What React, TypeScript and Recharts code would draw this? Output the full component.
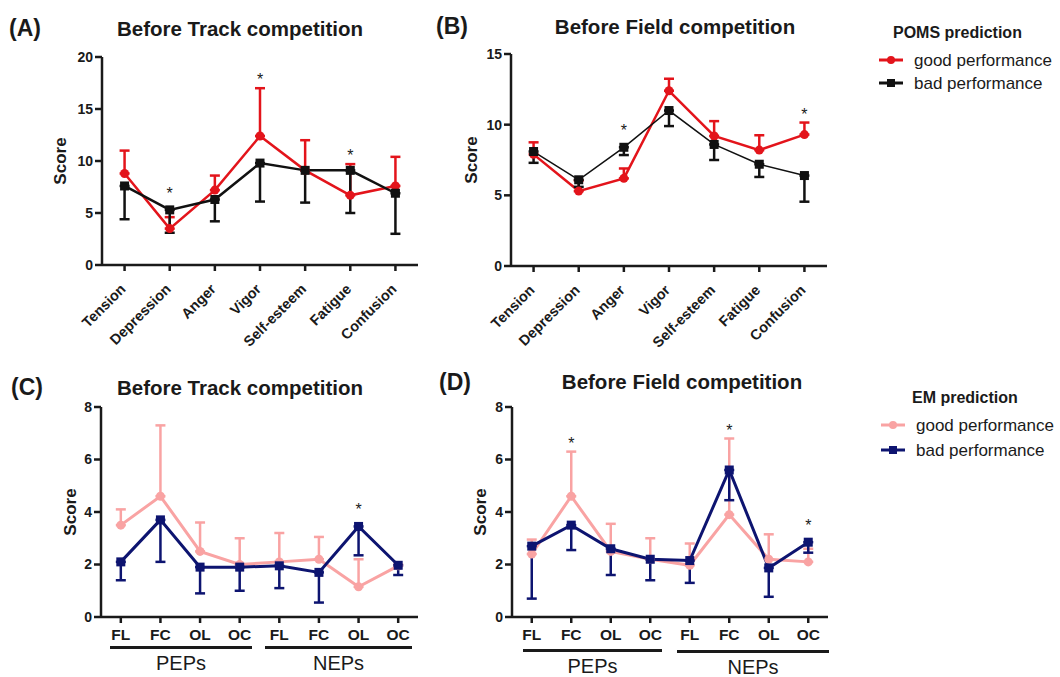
import React from "react"
import { ComposedChart, Line, XAxis, YAxis, ErrorBar, Label } from "recharts"

// POMS subscales (panels A, B)
const pomsCategories = ["Tension", "Depression", "Anger", "Vigor", "Self-esteem", "Fatigue", "Confusion"]

const trackPomsGood = [8.8, 3.5, 7.2, 12.4, 9.1, 6.7, 7.6]
const trackPomsGoodTop = [11.0, 4.6, 8.6, 17.0, 12.0, 9.7, 10.4]
const trackPomsBad = [7.6, 5.3, 6.3, 9.8, 9.1, 9.1, 6.9]
const trackPomsBadBottom = [4.4, 3.1, 4.2, 6.1, 6.0, 5.0, 3.0]
const trackPomsSig = [false, true, false, true, false, true, false]

const fieldPomsGood = [7.9, 5.3, 6.2, 12.4, 9.2, 8.2, 9.3]
const fieldPomsGoodTop = [8.75, 6.05, 6.9, 13.25, 10.25, 9.25, 10.15]
const fieldPomsBad = [8.1, 6.1, 8.4, 11.0, 8.6, 7.2, 6.4]
const fieldPomsBadBottom = [7.3, 5.6, 7.85, 9.9, 7.5, 6.3, 4.55]
const fieldPomsSig = [false, false, true, false, false, false, true]

// EM categories (panels C, D): PEPs then NEPs
const emCategories = ["FL", "FC", "OL", "OC", "FL", "FC", "OL", "OC"]
const emGroups = ["PEPs", "NEPs"]

const trackEmGood = [3.5, 4.6, 2.5, 2.0, 2.1, 2.2, 1.15, 1.95]
const trackEmGoodTop = [4.1, 7.3, 3.6, 3.0, 3.2, 3.05, 2.2, 2.0]
const trackEmBad = [2.1, 3.7, 1.9, 1.9, 1.95, 1.7, 3.45, 1.97]
const trackEmBadBottom = [1.4, 2.1, 0.9, 1.0, 1.1, 0.55, 2.35, 1.6]
const trackEmSig = [false, false, false, false, false, false, true, false]

const fieldEmGood = [2.4, 4.6, 2.5, 2.2, 1.97, 3.9, 2.2, 2.1]
const fieldEmGoodTop = [2.95, 6.3, 3.55, 3.0, 2.8, 6.8, 3.15, 2.6]
const fieldEmBad = [2.7, 3.5, 2.6, 2.2, 2.15, 5.6, 1.87, 2.85]
const fieldEmBadBottom = [0.7, 2.55, 1.6, 1.4, 1.3, 4.45, 0.77, 2.45]
const fieldEmSig = [false, true, false, false, false, true, false, true]

const RED = "#e3141b"
const BLACK = "#111111"
const PINK = "#f9a3a3"
const NAVY = "#0d1470"
const INK = "#1a1a1a"
const FONT = "'Liberation Sans', Arial, sans-serif"

function buildRows(
  cats: string[],
  good: number[],
  goodTop: number[],
  bad: number[],
  badBottom: number[],
  sig: boolean[]
) {
  return cats.map((name, i) => {
    const top = Math.max(good[i], goodTop[i], bad[i])
    return {
      name,
      good: good[i],
      goodErr: [0, goodTop[i] - good[i]],
      bad: bad[i],
      badErr: [bad[i] - badBottom[i], 0],
      star: sig[i] ? top : null,
      starOnMarker: bad[i] >= goodTop[i],
    }
  })
}

const rowsA = buildRows(pomsCategories, trackPomsGood, trackPomsGoodTop, trackPomsBad, trackPomsBadBottom, trackPomsSig)
const rowsB = buildRows(pomsCategories, fieldPomsGood, fieldPomsGoodTop, fieldPomsBad, fieldPomsBadBottom, fieldPomsSig)
const rowsC = buildRows(emCategories, trackEmGood, trackEmGoodTop, trackEmBad, trackEmBadBottom, trackEmSig)
const rowsD = buildRows(emCategories, fieldEmGood, fieldEmGoodTop, fieldEmBad, fieldEmBadBottom, fieldEmSig)

const squareDot = (color: string, size: number) => (props: any) => {
  const { cx, cy, index } = props
  if (cx == null || cy == null) return <g key={`sq-${index}`} />
  return <rect key={`sq-${index}`} x={cx - size / 2} y={cy - size / 2} width={size} height={size} fill={color} />
}

const starDot = (props: any) => {
  const { cx, cy, index, payload } = props
  if (cx == null || cy == null || payload.star == null) return <g key={`st-${index}`} />
  const off = payload.starOnMarker ? 20 : 12
  return (
    <text key={`st-${index}`} x={cx} y={cy - off + 9} textAnchor="middle" fontSize={16} fill={INK} fontFamily={FONT}>
      *
    </text>
  )
}

const RotatedTick = (props: any) => {
  const { x, y, payload } = props
  const tx = x + 2
  const ty = y + 17
  return (
    <text
      x={tx}
      y={ty}
      transform={`rotate(-45 ${tx} ${ty})`}
      textAnchor="end"
      fontSize={14.5}
      fontWeight="bold"
      fill={INK}
      fontFamily={FONT}
    >
      {payload.value}
    </text>
  )
}

type PanelProps = {
  rows: any[]
  left: number
  top: number
  width: number
  height: number
  margin: { top: number; right: number; bottom: number; left: number }
  yAxisWidth: number
  xAxisHeight: number
  yMax: number
  yTicks: number[]
  scoreX: number
  good: string
  bad: string
  goodWidth: number
  badWidth: number
  rotated: boolean
}

function Panel(p: PanelProps) {
  const plotMid = p.margin.top + (p.height - p.margin.top - p.margin.bottom - p.xAxisHeight) / 2
  const plotW = p.width - p.margin.left - p.margin.right - p.yAxisWidth
  const pad = plotW / (2 * p.rows.length)
  return (
    <div style={{ position: "absolute", left: p.left, top: p.top }}>
      <ComposedChart width={p.width} height={p.height} data={p.rows} margin={p.margin}>
        <XAxis
          dataKey="name"
          height={p.xAxisHeight}
          interval={0}
          padding={{ left: pad, right: pad }}
          tickSize={6}
          tickMargin={p.rotated ? 2 : 6}
          axisLine={{ stroke: INK, strokeWidth: 2.5 }}
          tickLine={{ stroke: INK, strokeWidth: 2.5 }}
          tick={p.rotated ? <RotatedTick /> : { fontSize: 15.5, fontWeight: "bold", fill: INK }}
        />
        <YAxis
          width={p.yAxisWidth}
          domain={[0, p.yMax]}
          ticks={p.yTicks}
          allowDataOverflow
          tickSize={7}
          tickMargin={2}
          axisLine={{ stroke: INK, strokeWidth: 2.5 }}
          tickLine={{ stroke: INK, strokeWidth: 2.5 }}
          tick={{ fontSize: 14, fontWeight: "bold", fill: INK }}
        >
          <Label
            content={() => (
              <text
                x={p.scoreX}
                y={plotMid}
                transform={`rotate(-90 ${p.scoreX} ${plotMid})`}
                textAnchor="middle"
                dominantBaseline="central"
                fontSize={17}
                fontWeight="bold"
                fill={INK}
                fontFamily={FONT}
              >
                Score
              </text>
            )}
          />
        </YAxis>
        <Line
          dataKey="good"
          stroke={p.good}
          strokeWidth={p.goodWidth}
          dot={{ r: 4.5, fill: p.good, stroke: p.good, strokeWidth: 0 }}
          activeDot={false}
          isAnimationActive={false}
        >
          <ErrorBar dataKey="goodErr" direction="y" width={5} stroke={p.good} strokeWidth={2.5} />
        </Line>
        <Line
          dataKey="bad"
          stroke={p.bad}
          strokeWidth={p.badWidth}
          dot={squareDot(p.bad, 9)}
          activeDot={false}
          isAnimationActive={false}
        >
          <ErrorBar dataKey="badErr" direction="y" width={5} stroke={p.bad} strokeWidth={2.5} />
        </Line>
        <Line dataKey="star" stroke="none" dot={starDot} activeDot={false} isAnimationActive={false} />
      </ComposedChart>
    </div>
  )
}

const abs = (left: number, top: number, extra: React.CSSProperties = {}): React.CSSProperties => ({
  position: "absolute",
  left,
  top,
  whiteSpace: "nowrap",
  lineHeight: 1,
  ...extra,
})

function Heading({ x, y, text }: { x: number; y: number; text: string }) {
  return (
    <div style={abs(x, y, { transform: "translate(-50%, -50%)", fontSize: 20.5, fontWeight: "bold", color: INK })}>
      {text}
    </div>
  )
}

function PanelTag({ x, y, text }: { x: number; y: number; text: string }) {
  return <div style={abs(x, y, { transform: "translateY(-50%)", fontSize: 23, fontWeight: "bold", color: INK })}>{text}</div>
}

function GroupBar({ x1, x2, y, label }: { x1: number; x2: number; y: number; label: string }) {
  return (
    <>
      <div style={abs(x1, y - 1.5, { width: x2 - x1, height: 3, background: INK })} />
      <div style={abs((x1 + x2) / 2, y + 16, { transform: "translate(-50%, -50%)", fontSize: 20, color: INK })}>{label}</div>
    </>
  )
}

function LegendItem({ x, y, color, square, text }: { x: number; y: number; color: string; square: boolean; text: string }) {
  return (
    <>
      <svg style={abs(x, y - 6)} width={24} height={12}>
        <line x1={0} y1={6} x2={24} y2={6} stroke={color} strokeWidth={3} />
        {square ? <rect x={8} y={2} width={8} height={8} fill={color} /> : <circle cx={12} cy={6} r={4} fill={color} />}
      </svg>
      <div style={abs(x + 35, y, { transform: "translateY(-50%)", fontSize: 17, color: INK })}>{text}</div>
    </>
  )
}

export default function App() {
  return (
    <div style={{ position: "absolute", left: 0, top: 0, width: 1060, height: 677, background: "#fff", fontFamily: FONT, overflow: "hidden" }}>
      <Panel
        rows={rowsC}
        left={0}
        top={340}
        width={430}
        height={337}
        margin={{ top: 67, right: 12, bottom: 20, left: 0 }}
        yAxisWidth={101}
        xAxisHeight={40}
        yMax={8}
        yTicks={[0, 2, 4, 6, 8]}
        scoreX={70}
        good={PINK}
        bad={NAVY}
        goodWidth={3}
        badWidth={3}
        rotated={false}
      />
      <Panel
        rows={rowsD}
        left={420}
        top={340}
        width={420}
        height={337}
        margin={{ top: 67, right: 12, bottom: 20, left: 0 }}
        yAxisWidth={92}
        xAxisHeight={40}
        yMax={8}
        yTicks={[0, 2, 4, 6, 8]}
        scoreX={60}
        good={PINK}
        bad={NAVY}
        goodWidth={3}
        badWidth={3}
        rotated={false}
      />
      <Panel
        rows={rowsA}
        left={0}
        top={0}
        width={430}
        height={362}
        margin={{ top: 57, right: 12, bottom: 37, left: 0 }}
        yAxisWidth={102}
        xAxisHeight={60}
        yMax={20}
        yTicks={[0, 5, 10, 15, 20]}
        scoreX={60}
        good={RED}
        bad={BLACK}
        goodWidth={2.5}
        badWidth={2.5}
        rotated
      />
      <Panel
        rows={rowsB}
        left={420}
        top={0}
        width={420}
        height={362}
        margin={{ top: 54, right: 13, bottom: 36, left: 0 }}
        yAxisWidth={91}
        xAxisHeight={60}
        yMax={15}
        yTicks={[0, 5, 10, 15]}
        scoreX={51}
        good={RED}
        bad={BLACK}
        goodWidth={2.5}
        badWidth={1.5}
        rotated
      />

      <PanelTag x={9} y={28} text="(A)" />
      <PanelTag x={436} y={26} text="(B)" />
      <PanelTag x={11} y={387} text="(C)" />
      <PanelTag x={439} y={382} text="(D)" />

      <Heading x={240} y={29} text="Before Track competition" />
      <Heading x={675} y={27} text="Before Field competition" />
      <Heading x={240} y={388} text="Before Track competition" />
      <Heading x={682} y={382} text="Before Field competition" />

      <GroupBar x1={110} x2={252} y={647} label={emGroups[0]} />
      <GroupBar x1={265} x2={412} y={647} label={emGroups[1]} />
      <GroupBar x1={523} x2={662} y={650} label={emGroups[0]} />
      <GroupBar x1={677} x2={829} y={651} label={emGroups[1]} />

      <div style={abs(893, 33, { transform: "translateY(-50%)", fontSize: 16, fontWeight: "bold", color: INK })}>POMS prediction</div>
      <LegendItem x={879} y={60} color={RED} square={false} text="good performance" />
      <LegendItem x={879} y={83} color={BLACK} square text="bad performance" />

      <div style={abs(912, 398, { transform: "translateY(-50%)", fontSize: 16, fontWeight: "bold", color: INK })}>EM prediction</div>
      <LegendItem x={881} y={425} color={PINK} square={false} text="good performance" />
      <LegendItem x={881} y={450} color={NAVY} square text="bad performance" />
    </div>
  )
}
